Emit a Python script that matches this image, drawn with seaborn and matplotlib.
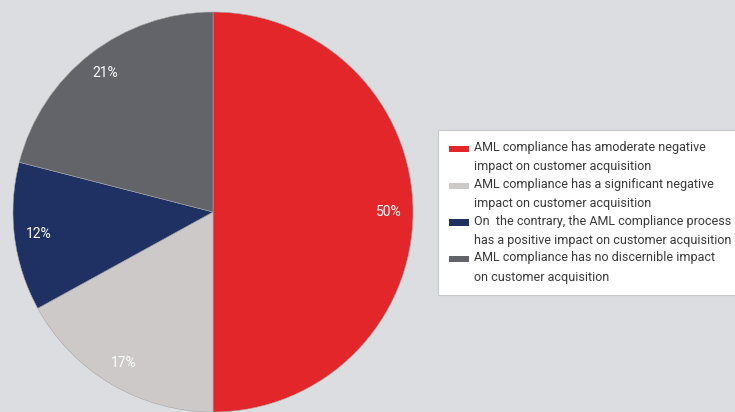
import matplotlib.pyplot as plt
from matplotlib.patches import Patch, Rectangle
from matplotlib.legend_handler import HandlerBase
import seaborn as sns

# Survey answers, clockwise from the top
answers = [
    'AML compliance has amoderate negative\nimpact on customer acquisition',
    'AML compliance has a significant negative\nimpact on customer acquisition',
    'On  the contrary, the AML compliance process\nhas a positive impact on customer acquisition',
    'AML compliance has no discernible impact\non customer acquisition',
]
shares = [50, 17, 12, 21]
colors = ['#e3262a', '#ccc9c8', '#1f3163', '#636469']


class FirstLineHandler(HandlerBase):
    # thin bar lined up with the first text line instead of the middle
    def create_artists(self, legend, orig_handle, xdescent, ydescent,
                       width, height, fontsize, trans):
        y = height / 2 + 6.4
        bar = Rectangle((-xdescent, y - 2.2), width, 4.4,
                        facecolor=orig_handle.get_facecolor(), edgecolor='none',
                        transform=trans)
        return [bar]


sns.set_theme(style="white")
plt.rcParams['font.family'] = ['Roboto', 'DejaVu Sans']

bg = '#dcdde0'
fig = plt.figure(figsize=(7.35, 4.12), dpi=100, facecolor=bg)
ax = fig.add_axes([13 / 735, 0, 400 / 735, 400 / 412])
ax.set_facecolor(bg)

wedges, texts = ax.pie(
    shares, colors=colors, startangle=90, counterclock=False,
    labels=[f'{s}%' for s in shares], labeldistance=0.88,
    wedgeprops=dict(edgecolor='#a8a8a8', linewidth=0.4),
    textprops=dict(color='white', fontsize=10),
)
for t in texts:
    t.set_horizontalalignment('center')
    t.set_verticalalignment('center')
ax.set_aspect('equal')
ax.set_xlim(-1, 1)
ax.set_ylim(-1, 1)

handles = [Patch(facecolor=c) for c in colors]
leg = ax.legend(
    handles, answers, loc='upper left',
    handler_map={Patch: FirstLineHandler()},
    bbox_to_anchor=(438 / 735, 1 - 130 / 412), bbox_transform=fig.transFigure,
    borderaxespad=0, frameon=True, fancybox=False, framealpha=1, fontsize=9,
    handlelength=1.6, handletextpad=0.4, labelspacing=0.36,
    borderpad=0.9, labelcolor='#383838',
)
leg.get_frame().set_facecolor('white')
leg.get_frame().set_edgecolor('#c8c8c8')
leg.get_frame().set_linewidth(0.8)
for t in leg.get_texts():
    t.set_linespacing(1.62)

fig.savefig('out.png', dpi=100, facecolor=bg)
